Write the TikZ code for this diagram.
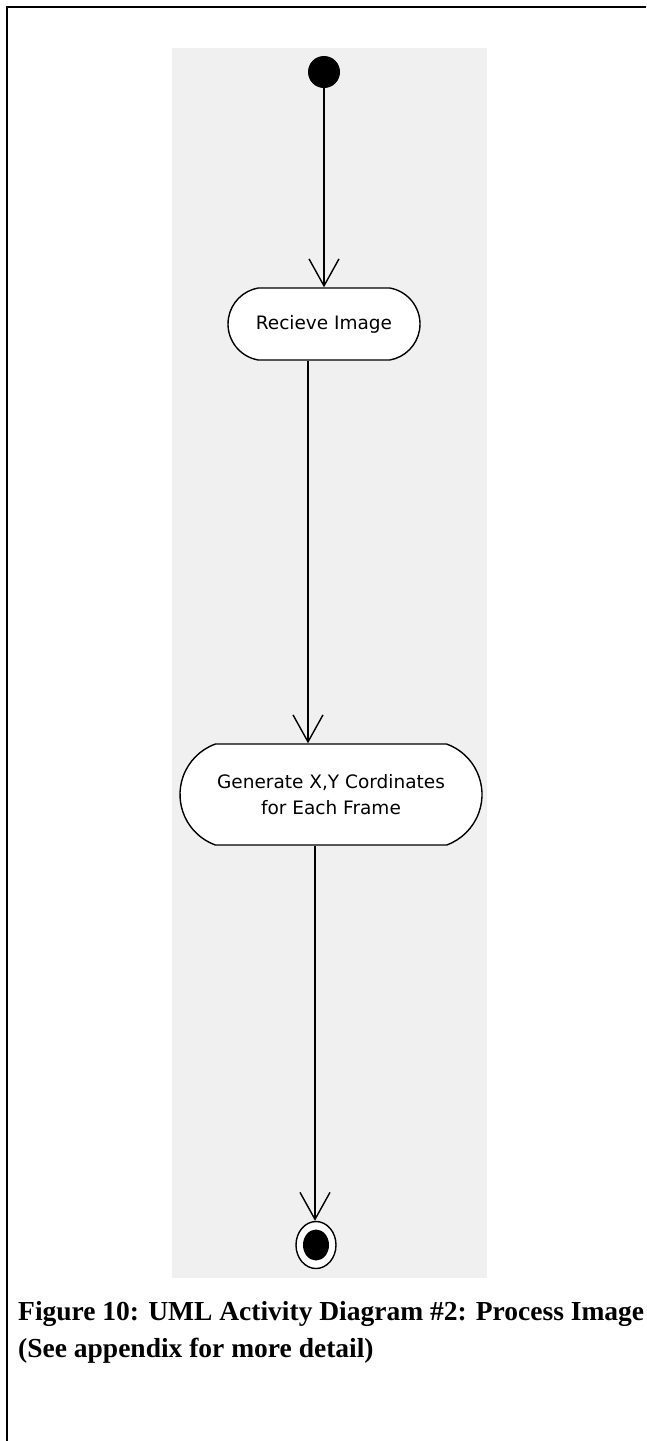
\documentclass[tikz,border=0pt]{standalone}
\usepackage{fontspec}
\newfontfamily\uifont{DejaVu Sans}
\newfontfamily\capfont{Liberation Serif}
\usetikzlibrary{arrows.meta,shapes.misc,shapes.geometric}
\definecolor{panelgray}{HTML}{F0F0F0}

\begin{document}
\begin{tikzpicture}[x=1pt,y=-1pt,
  frameline/.style={line width=2pt, draw=black},
  activity/.style={rounded rectangle, draw=black, line width=1.4pt, fill=white,
    inner sep=0pt, align=center, font=\uifont\fontsize{18.5}{26}\selectfont},
  flow/.style={draw=black, line width=1.4pt,
    -{Straight Barb[length=27pt,width=30pt,line width=1.4pt]}},
  startdot/.style={circle, fill=black, minimum size=32pt, inner sep=0pt},
  enddot/.style={ellipse, draw=black, line width=1.4pt, fill=white,
    minimum width=40pt, minimum height=47pt, inner sep=0pt},
  caption/.style={anchor=north west, align=left, inner sep=0pt,
    font=\capfont\bfseries\fontsize{27.5}{37}\selectfont}]

\useasboundingbox (0,0) rectangle (646,1441);
\fill[white] (0,0) rectangle (646,1441);

% page frame (top and left rules)
\draw[frameline] (6.5,1441) -- (6.5,6.5) -- (646,6.5);

% diagram canvas
\fill[panelgray] (172,48) rectangle (487,1278);

% activity nodes
\node[startdot] (start) at (324,72) {};
\node[activity, minimum width=192pt, minimum height=72pt,
      rounded rectangle arc length=160] (recv) at (324,324) {Recieve Image};
\node[activity, minimum width=302pt, minimum height=101pt,
      rounded rectangle arc length=140] (gen) at (331,794.5)
      {Generate X,Y Cordinates\\for Each Frame};
\node[enddot] (final) at (316,1245) {};
\fill[black] (final.center) ellipse [x radius=13pt, y radius=15.5pt];

% control flows
\draw[flow] (start) -- (recv.north);
\draw[flow] ([xshift=-16pt]recv.south) -- ([xshift=-16pt]recv.south |- gen.north);
\draw[flow] ([xshift=-16pt]gen.south) -- ([xshift=-16pt]gen.south |- final.north);

% figure caption
\node[caption] (cap) at (18,1301)
  {Figure 10: UML Activity Diagram \#2: Process Image\\(See appendix for more detail)};
\end{tikzpicture}
\end{document}
